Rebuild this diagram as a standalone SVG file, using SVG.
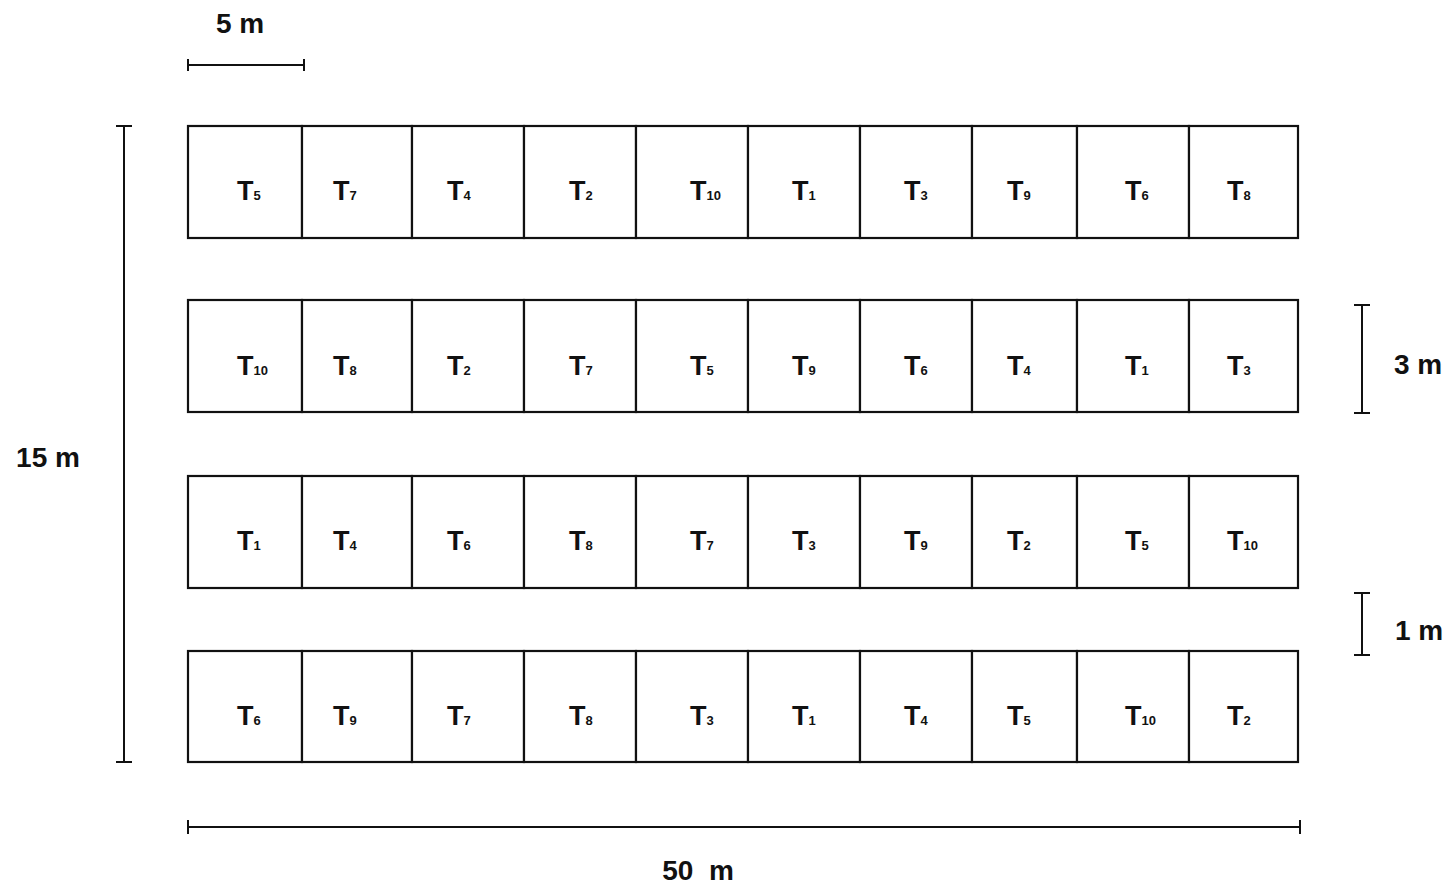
<svg xmlns="http://www.w3.org/2000/svg" width="1454" height="888" viewBox="0 0 1454 888">
<style>
.cell{fill:#fff;stroke:#111;stroke-width:2.2}
.lbl{font-family:"Liberation Sans",Arial,sans-serif;font-weight:bold;font-size:27px;fill:#111}
.sub{font-size:13px}
.dim{stroke:#111;stroke-width:2;fill:none}
.dimt{font-family:"Liberation Sans",Arial,sans-serif;font-weight:bold;font-size:28px;fill:#111}
</style>
<rect width="1454" height="888" fill="#fff"/>
<g id="row1">
<rect class="cell" x="188" y="126" width="114" height="112"/><rect class="cell" x="302" y="126" width="110" height="112"/><rect class="cell" x="412" y="126" width="112" height="112"/><rect class="cell" x="524" y="126" width="112" height="112"/><rect class="cell" x="636" y="126" width="112" height="112"/><rect class="cell" x="748" y="126" width="112" height="112"/><rect class="cell" x="860" y="126" width="112" height="112"/><rect class="cell" x="972" y="126" width="105" height="112"/><rect class="cell" x="1077" y="126" width="112" height="112"/><rect class="cell" x="1189" y="126" width="109" height="112"/>
<text class="lbl" y="200"><tspan x="237">T</tspan><tspan class="sub">5</tspan><tspan x="333">T</tspan><tspan class="sub">7</tspan><tspan x="447">T</tspan><tspan class="sub">4</tspan><tspan x="569">T</tspan><tspan class="sub">2</tspan><tspan x="690">T</tspan><tspan class="sub">10</tspan><tspan x="792">T</tspan><tspan class="sub">1</tspan><tspan x="904">T</tspan><tspan class="sub">3</tspan><tspan x="1007">T</tspan><tspan class="sub">9</tspan><tspan x="1125">T</tspan><tspan class="sub">6</tspan><tspan x="1227">T</tspan><tspan class="sub">8</tspan></text>
</g>
<g id="row2">
<rect class="cell" x="188" y="300" width="114" height="112"/><rect class="cell" x="302" y="300" width="110" height="112"/><rect class="cell" x="412" y="300" width="112" height="112"/><rect class="cell" x="524" y="300" width="112" height="112"/><rect class="cell" x="636" y="300" width="112" height="112"/><rect class="cell" x="748" y="300" width="112" height="112"/><rect class="cell" x="860" y="300" width="112" height="112"/><rect class="cell" x="972" y="300" width="105" height="112"/><rect class="cell" x="1077" y="300" width="112" height="112"/><rect class="cell" x="1189" y="300" width="109" height="112"/>
<text class="lbl" y="375"><tspan x="237">T</tspan><tspan class="sub">10</tspan><tspan x="333">T</tspan><tspan class="sub">8</tspan><tspan x="447">T</tspan><tspan class="sub">2</tspan><tspan x="569">T</tspan><tspan class="sub">7</tspan><tspan x="690">T</tspan><tspan class="sub">5</tspan><tspan x="792">T</tspan><tspan class="sub">9</tspan><tspan x="904">T</tspan><tspan class="sub">6</tspan><tspan x="1007">T</tspan><tspan class="sub">4</tspan><tspan x="1125">T</tspan><tspan class="sub">1</tspan><tspan x="1227">T</tspan><tspan class="sub">3</tspan></text>
</g>
<g id="row3">
<rect class="cell" x="188" y="476" width="114" height="112"/><rect class="cell" x="302" y="476" width="110" height="112"/><rect class="cell" x="412" y="476" width="112" height="112"/><rect class="cell" x="524" y="476" width="112" height="112"/><rect class="cell" x="636" y="476" width="112" height="112"/><rect class="cell" x="748" y="476" width="112" height="112"/><rect class="cell" x="860" y="476" width="112" height="112"/><rect class="cell" x="972" y="476" width="105" height="112"/><rect class="cell" x="1077" y="476" width="112" height="112"/><rect class="cell" x="1189" y="476" width="109" height="112"/>
<text class="lbl" y="550"><tspan x="237">T</tspan><tspan class="sub">1</tspan><tspan x="333">T</tspan><tspan class="sub">4</tspan><tspan x="447">T</tspan><tspan class="sub">6</tspan><tspan x="569">T</tspan><tspan class="sub">8</tspan><tspan x="690">T</tspan><tspan class="sub">7</tspan><tspan x="792">T</tspan><tspan class="sub">3</tspan><tspan x="904">T</tspan><tspan class="sub">9</tspan><tspan x="1007">T</tspan><tspan class="sub">2</tspan><tspan x="1125">T</tspan><tspan class="sub">5</tspan><tspan x="1227">T</tspan><tspan class="sub">10</tspan></text>
</g>
<g id="row4">
<rect class="cell" x="188" y="651" width="114" height="111"/><rect class="cell" x="302" y="651" width="110" height="111"/><rect class="cell" x="412" y="651" width="112" height="111"/><rect class="cell" x="524" y="651" width="112" height="111"/><rect class="cell" x="636" y="651" width="112" height="111"/><rect class="cell" x="748" y="651" width="112" height="111"/><rect class="cell" x="860" y="651" width="112" height="111"/><rect class="cell" x="972" y="651" width="105" height="111"/><rect class="cell" x="1077" y="651" width="112" height="111"/><rect class="cell" x="1189" y="651" width="109" height="111"/>
<text class="lbl" y="725"><tspan x="237">T</tspan><tspan class="sub">6</tspan><tspan x="333">T</tspan><tspan class="sub">9</tspan><tspan x="447">T</tspan><tspan class="sub">7</tspan><tspan x="569">T</tspan><tspan class="sub">8</tspan><tspan x="690">T</tspan><tspan class="sub">3</tspan><tspan x="792">T</tspan><tspan class="sub">1</tspan><tspan x="904">T</tspan><tspan class="sub">4</tspan><tspan x="1007">T</tspan><tspan class="sub">5</tspan><tspan x="1125">T</tspan><tspan class="sub">10</tspan><tspan x="1227">T</tspan><tspan class="sub">2</tspan></text>
</g>
<g id="dimensions">
<path class="dim" d="M188 65H304M188 59V71M304 59V71"/>
<text class="dimt" x="240" y="33" text-anchor="middle">5 m</text>
<path class="dim" d="M124 126V762M116 126H132M116 762H132"/>
<text class="dimt" x="48" y="467" text-anchor="middle">15 m</text>
<path class="dim" d="M1362 305V413M1354 305H1370M1354 413H1370"/>
<text class="dimt" x="1418" y="374" text-anchor="middle">3 m</text>
<path class="dim" d="M1362 593V655M1354 593H1370M1354 655H1370"/>
<text class="dimt" x="1419" y="640" text-anchor="middle">1 m</text>
<path class="dim" d="M188 827H1300M188 820V834M1300 820V834"/>
<text class="dimt" x="698" y="880" text-anchor="middle" xml:space="preserve">50  m</text>
</g>
</svg>
